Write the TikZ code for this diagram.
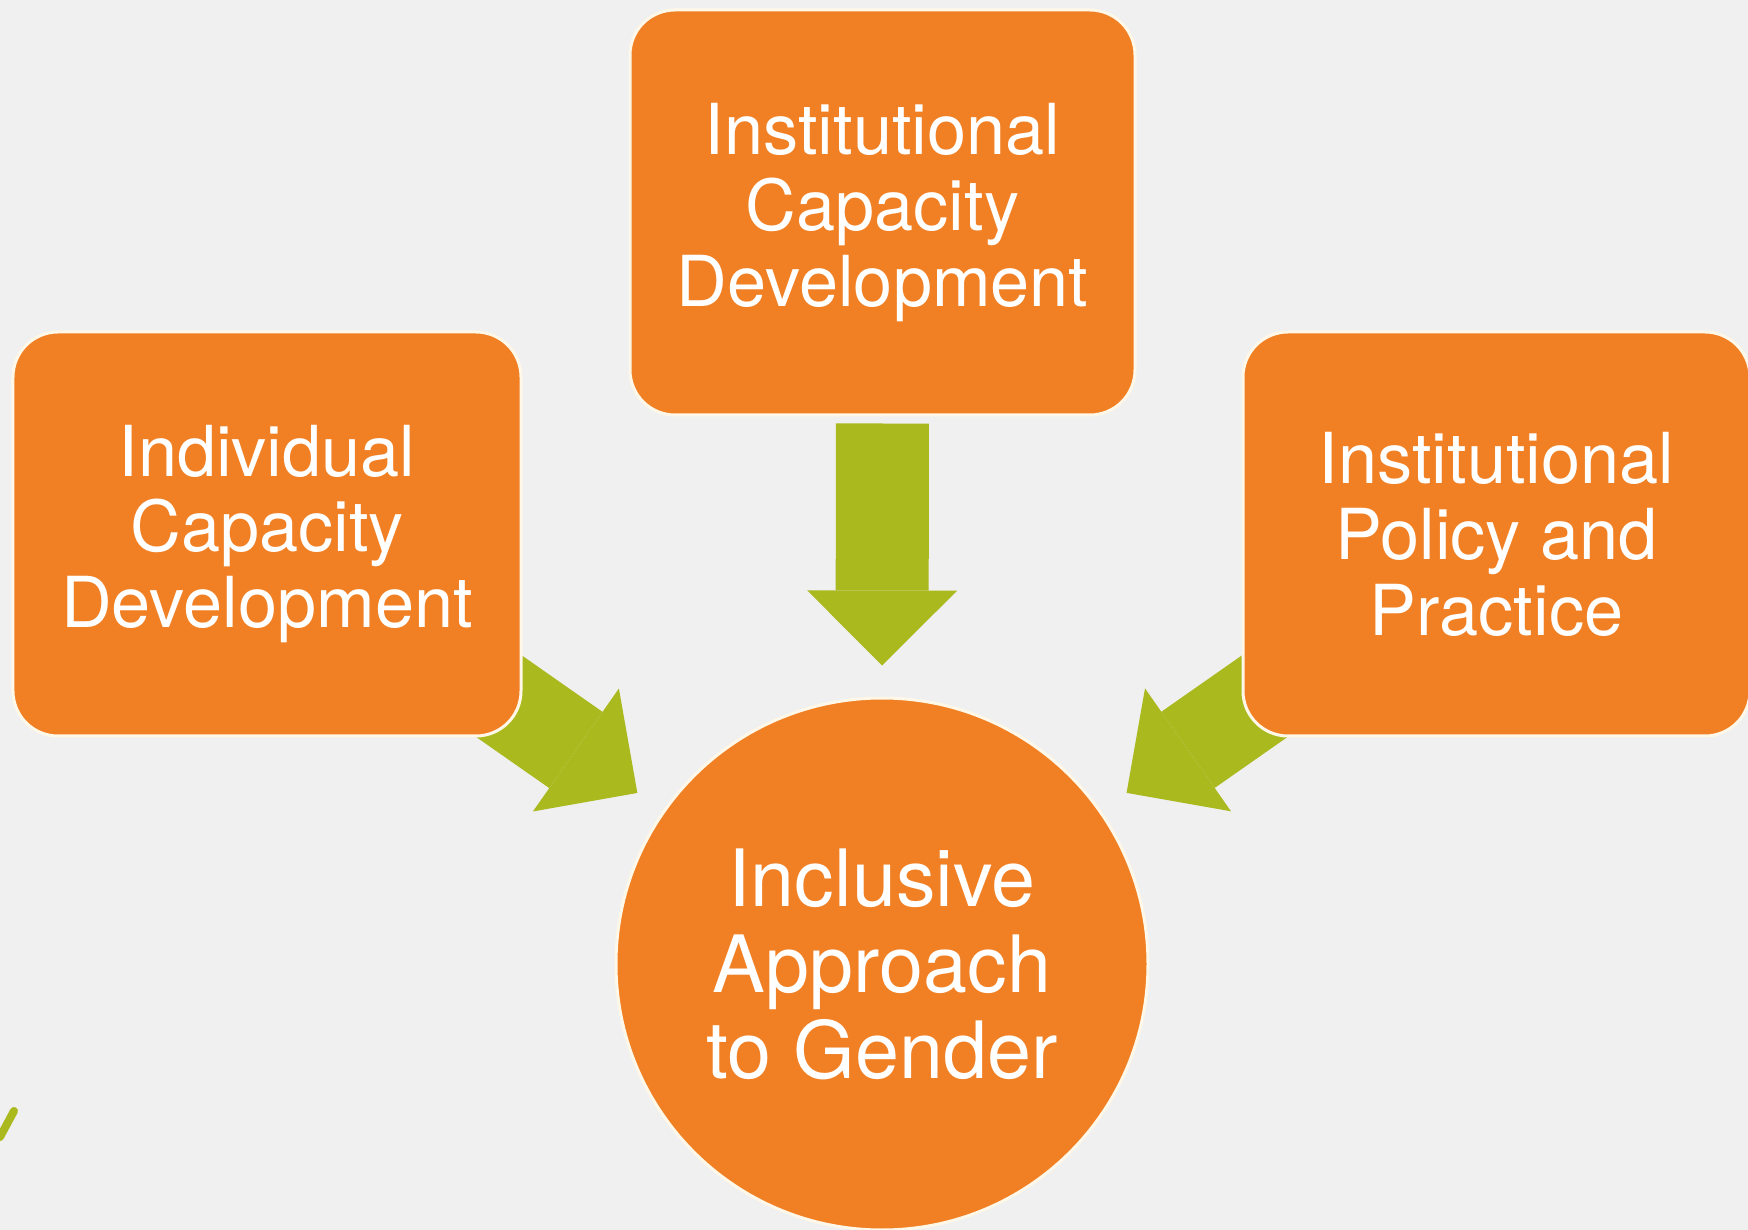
\documentclass[tikz,border=0pt]{standalone}
\usepackage{fontspec}
\setmainfont{TeX Gyre Heros}
\usetikzlibrary{arrows.meta, backgrounds}

\definecolor{boxorange}{RGB}{241,128,36}
\definecolor{arrowgreen}{RGB}{170,185,30}
\definecolor{paper}{RGB}{240,240,240}
\definecolor{rim}{RGB}{255,248,232}

\begin{document}
\begin{tikzpicture}[
every node/.style={text=white, align=center},
pillar/.style={rectangle, rounded corners=0.45cm, draw=rim, line width=0.03cm, fill=boxorange, font=\fontsize{20}{21.6}\selectfont},
goal/.style={circle, draw=rim, line width=0.03cm, fill=boxorange, minimum size=5.32cm, font=\fontsize{22.5}{24.5}\selectfont},
feed/.style={draw=arrowgreen, line width=0.93cm, shorten >=0.31cm, -{Triangle[width=1.5cm, length=0.75cm, line width=0pt]}}
]
\useasboundingbox (0,0) rectangle (17.48,-12.30);

% Nodes
\node[goal] (approach) at (8.82,-9.64) {Inclusive\\Approach\\to Gender};
\node[pillar, minimum width=5.05cm, minimum height=4.05cm] (instcap) at (8.825,-2.125) {Institutional\\Capacity\\Development};
\node[pillar, minimum width=5.08cm, minimum height=4.04cm] (indcap) at (2.67,-5.34) {Individual\\Capacity\\Development};
\node[pillar, minimum width=5.07cm, minimum height=4.04cm] (policy) at (14.965,-5.34) {Institutional\\Policy and\\Practice};

% Connections (behind the boxes)
\begin{scope}[on background layer]
\fill[paper] (0,0) rectangle (17.48,-12.30);
\draw[feed, shorten <=0.07cm] (instcap.south) -- (approach.north);
\draw[feed] (indcap.center) -- (approach);
\draw[feed] (policy.center) -- (approach);
\end{scope}

% stray mark at the left edge
\draw[arrowgreen, line width=0.08cm, line cap=round] (0,-11.37) -- (0.14,-11.11);

\end{tikzpicture}
\end{document}
